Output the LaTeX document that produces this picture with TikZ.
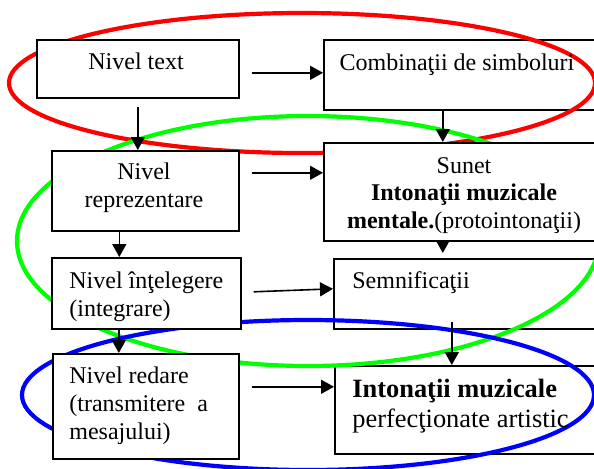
\documentclass[tikz,border=0pt]{standalone}
\usepackage{fontspec}
\setmainfont{Liberation Serif}
\usetikzlibrary{arrows.meta}
\begin{document}
\begin{tikzpicture}[x=0.5pt,y=-0.5pt,
  box/.style={draw=black,line width=0.8pt,fill=white,minimum width=#1,inner sep=0pt,anchor=north west},
  txt/.style={inner sep=0pt,anchor=base,font=\fontsize{12}{13.75}\selectfont},
  arr/.style={line width=0.8pt,-{Triangle[length=6.5pt,width=7pt]}},
  oval/.style={line width=2.1pt}]
\useasboundingbox (0,0) rectangle (594,468);
\fill[white] (0,0) rectangle (594,468);
\clip (0,0) rectangle (594,468);
% right boxes under the ovals
\node[box=148.5pt,minimum height=35pt] (c1) at (323,39) {};
\node[box=143.5pt,minimum height=35pt] (c3) at (333,258) {};
\node[box=143pt,minimum height=44pt] (c4) at (334,365) {};
% ovals
\draw[oval,red] (302,83) ellipse [x radius=146.5pt, y radius=35pt];
\draw[oval,green] (308,241) ellipse [x radius=145.5pt, y radius=62.5pt];
\draw[oval,blue] (308,395) ellipse [x radius=143pt, y radius=37.5pt];
% boxes over the ovals
\node[box=101pt,minimum height=29pt] (t1) at (36,39) {};
\node[box=93.5pt,minimum height=40pt] (t2) at (51,150) {};
\node[box=94.5pt,minimum height=35.5pt] (t3) at (51,257) {};
\node[box=93pt,minimum height=52.5pt] (t4) at (52,353) {};
\node[box=148.5pt,minimum height=49pt] (c2) at (323,142) {};
% texts (multi-line: position is the baseline of the last line)
\node[txt] (l1) at (136,69) {Nivel text};
\node[txt] (l2) at (457,70) {Combinaţii de simboluri};
\node[txt,align=center] (l3) at (144,207) {Nivel\\reprezentare};
\node[txt,align=center] (l4) at (464,228) {Sunet\\\textbf{Intonaţii muzicale}\\\textbf{mentale.}(protointonaţii)};
\node[txt,align=left,anchor=base west] (l5) at (69,316) {Nivel înţelegere\\(integrare)};
\node[txt,anchor=base west] (l6) at (352,288) {Semnificaţii};
\node[txt,align=left,anchor=base west,font=\fontsize{12}{14}\selectfont] (l7) at (69,439) {Nivel redare\\(transmitere\ \ a\\mesajului)};
\node[txt,align=left,anchor=base west,font=\fontsize{13.2}{15}\selectfont] (l8) at (352,427) {\textbf{Intonaţii muzicale}\\perfecţionate artistic};
% arrows
\draw[arr,shorten <=6pt] ([yshift=-2pt]t1.east) -- ([yshift=-2pt]t1.east -| c1.west);
\draw[arr,shorten <=4pt] (t1.south) -- (t1.south |- t2.north);
\draw[arr,shorten <=6pt] ([yshift=9pt]t2.east) -- ([yshift=9pt]t2.east -| c2.west);
\draw[arr] ([xshift=-13pt]t2.south) -- ([xshift=-13pt]t2.south |- t3.north);
\draw[arr] ([xshift=6pt,yshift=0.75pt]t3.east) -- ([yshift=2.5pt]c3.west);
\draw[arr] ([xshift=-13.75pt]t3.south) -- ([xshift=-13.75pt]t3.south |- t4.north);
\draw[arr,shorten <=6pt] ([yshift=9.75pt]t4.east) -- ([yshift=9.75pt]t4.east -| c4.west);
\draw[arr] ([xshift=-14.75pt]c1.south) -- ([xshift=-14.75pt]c1.south |- c2.north);
\draw[arr,shorten >=2.5pt] ([xshift=-14.75pt]c2.south) -- ([xshift=-14.75pt]c2.south |- c3.north);
\draw[arr,shorten <=-4pt] ([xshift=-12.75pt]c3.south) -- ([xshift=-12.75pt]c3.south |- c4.north);
\end{tikzpicture}
\end{document}
